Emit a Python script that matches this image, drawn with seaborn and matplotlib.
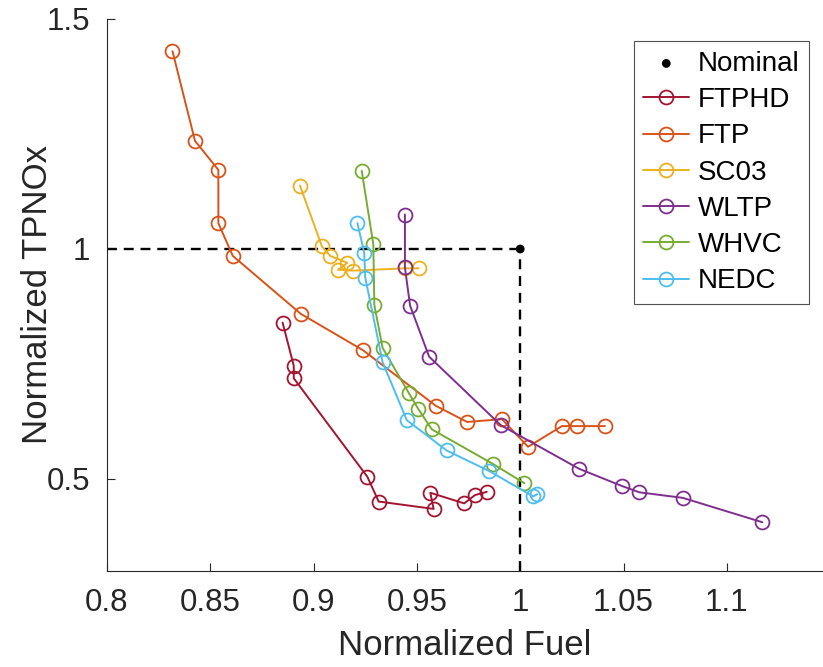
import matplotlib
matplotlib.use("Agg")
import matplotlib.pyplot as plt
import seaborn as sns
import numpy as np
from matplotlib import font_manager

# ---------------- data ----------------
nominal_fuel = 1.0
nominal_nox = 1.0

series_names = ["FTPHD", "FTP", "SC03", "WLTP", "WHVC", "NEDC"]
series_colors = ["#A2142F", "#D95319", "#EDB120", "#7E2F8E", "#77AC30", "#4DBEEE"]

ftphd_fuel = [0.8850, 0.8904, 0.8904, 0.9260, 0.9315, 0.9581, 0.9565, 0.9729, 0.9781, 0.9838]
ftphd_nox = [0.840, 0.746, 0.719, 0.505, 0.451, 0.435, 0.470, 0.447, 0.465, 0.472]

ftp_fuel = [0.8317, 0.8426, 0.8539, 0.8539, 0.8609, 0.8938, 0.9239, 0.9592, 0.9743, 0.9912, 1.0038, 1.0202, 1.0275, 1.0410]
ftp_nox = [1.430, 1.235, 1.172, 1.056, 0.985, 0.859, 0.780, 0.659, 0.624, 0.630, 0.570, 0.615, 0.615, 0.615]

sc03_fuel = [0.8934, 0.9040, 0.9080, 0.9163, 0.9119, 0.9190, 0.9443, 0.9508]
sc03_nox = [1.138, 1.006, 0.985, 0.970, 0.955, 0.953, 0.958, 0.958]

wltp_fuel = [0.9442, 0.9442, 0.9467, 0.9559, 0.9906, 1.0286, 1.0491, 1.0577, 1.0787, 1.1172]
wltp_nox = [1.075, 0.960, 0.877, 0.766, 0.617, 0.522, 0.485, 0.471, 0.459, 0.406]

whvc_fuel = [0.9233, 0.9289, 0.9294, 0.9334, 0.9462, 0.9507, 0.9572, 0.9867, 1.0020]
whvc_nox = [1.170, 1.010, 0.878, 0.785, 0.686, 0.652, 0.608, 0.533, 0.491]

nedc_fuel = [0.9212, 0.9245, 0.9250, 0.9334, 0.9451, 0.9644, 0.9851, 1.0063, 1.0083]
nedc_nox = [1.056, 0.992, 0.938, 0.754, 0.628, 0.562, 0.517, 0.462, 0.467]

series_fuel = [ftphd_fuel, ftp_fuel, sc03_fuel, wltp_fuel, whvc_fuel, nedc_fuel]
series_nox = [ftphd_nox, ftp_nox, sc03_nox, wltp_nox, whvc_nox, nedc_nox]

x_ticks = [0.8, 0.85, 0.9, 0.95, 1.0, 1.05, 1.1]
x_ticklabels = ["0.8", "0.85", "0.9", "0.95", "1", "1.05", "1.1"]
y_ticks = [0.5, 1.0, 1.5]
y_ticklabels = ["0.5", "1", "1.5"]

# ---------------- style ----------------
sns.set_theme(style="white")
avail = {f.name for f in font_manager.fontManager.ttflist}
fam = [f for f in ["Liberation Sans", "DejaVu Sans"] if f in avail]
plt.rcParams["font.family"] = fam

fig = plt.figure(figsize=(8.23, 6.67), dpi=100)
ax = fig.add_axes([107 / 823, 1 - 571 / 667, 1 - 107 / 823, (571 - 19) / 667])

xmin, xmax = 0.8, 0.8 + (823 - 107) / 2066
ymin, ymax = 0.3, 1.5

# reference dashed lines through nominal point
dash = (0, (4.2, 2.9))
ax.plot([xmin, nominal_fuel], [nominal_nox, nominal_nox], ls=dash, color="black", lw=1.7, zorder=1)
ax.plot([nominal_fuel, nominal_fuel], [ymin, nominal_nox], ls=dash, color="black", lw=1.7, zorder=1)

sns.scatterplot(x=[nominal_fuel], y=[nominal_nox], color="black", s=40, ax=ax,
                label="Nominal", edgecolor="none", zorder=5)

for name, col, fx, ny in zip(series_names, series_colors, series_fuel, series_nox):
    sns.lineplot(x=fx, y=ny, sort=False, estimator=None, color=col, lw=1.4,
                 marker="o", markersize=10, markerfacecolor="none",
                 markeredgecolor=col, markeredgewidth=1.3, label=name, ax=ax, zorder=3)

ax.set_xlim(xmin, xmax)
ax.set_ylim(ymin, ymax)
ax.set_xticks(x_ticks)
ax.set_xticklabels(x_ticklabels)
ax.set_yticks(y_ticks)
ax.set_yticklabels(y_ticklabels)

tick_color = "#262626"
ax.tick_params(axis="both", direction="in", length=6, width=0.8, colors=tick_color,
               labelsize=22.5, pad=12, bottom=True, left=True)
for s in ["top", "right"]:
    ax.spines[s].set_visible(False)
for s in ["left", "bottom"]:
    ax.spines[s].set_color(tick_color)
    ax.spines[s].set_linewidth(0.8)

ax.set_xlabel("Normalized Fuel", fontsize=25, color=tick_color, labelpad=8)
ax.set_ylabel("Normalized TPNOx", fontsize=25, color=tick_color, labelpad=-5)

leg = ax.legend(loc="upper right", bbox_to_anchor=((809 - 107) / (823 - 107), 1 - (41 - 19) / (571 - 19)),
                fontsize=20, frameon=True, fancybox=False, edgecolor="#262626",
                handlelength=1.65, handletextpad=0.3, borderpad=0.35, labelspacing=0.37,
                borderaxespad=0.0)
leg.get_frame().set_linewidth(0.8)
for t in leg.get_texts():
    t.set_color("black")

fig.savefig("out.png", dpi=100)
